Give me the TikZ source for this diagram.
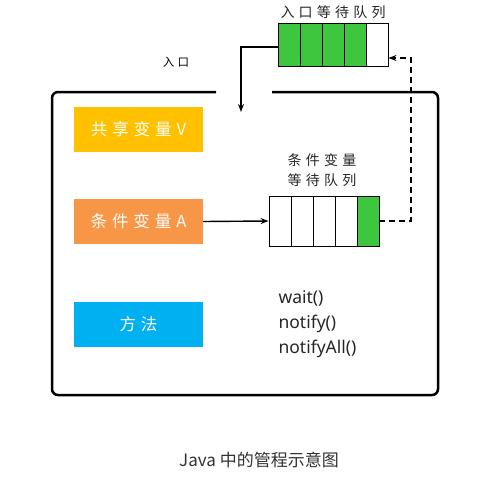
\documentclass[tikz,border=0pt]{standalone}
\usepackage{fontspec}
\newfontfamily\cjk{Noto Sans CJK SC}
\newfontfamily\cjkwide[LetterSpace=30]{Noto Sans CJK SC}
\newfontfamily\latinf{Noto Sans}
\usetikzlibrary{arrows.meta}
\definecolor{qgreen}{HTML}{3EC63E}
\definecolor{vyellow}{HTML}{FFC000}
\definecolor{aorange}{HTML}{F79646}
\definecolor{mblue}{HTML}{00B0F0}
\tikzset{
  colbox/.style={minimum width=129pt, minimum height=45pt, inner sep=0pt, text=white, font=\cjkwide\fontsize{16.5}{16}\selectfont},
  cell/.style={draw=black, line width=0.9pt, minimum width=22pt, inner sep=0pt},
  arr/.style={line width=1.4pt, -{Stealth[length=8pt,width=6pt]}},
  qlabel/.style={font=\cjkwide\fontsize{14}{20}\selectfont, align=center, text=black!85},
}
\begin{document}
\begin{tikzpicture}[x=1pt,y=-1pt]
\useasboundingbox (0,0) rectangle (492,482);
\fill[white] (0,0) rectangle (492,482);
% main box with a gap in the top edge
\draw[line width=2.5pt, rounded corners=6pt] (216,92) -- (52,92) -- (52,395) -- (438,395) -- (438,92) -- (272,92);
% entry queue
\foreach \i in {0,1,2,3} {
  \node[cell, fill=qgreen, minimum height=43pt] (e\i) at (289+22*\i,44.5) {};
}
\node[cell, fill=white, minimum height=43pt] (e4) at (377,44.5) {};
\node[qlabel] (elab) at (333,12) {入口等待队列};
\node[font=\cjkwide\fontsize{11.5}{11}\selectfont] (entry) at (176,62) {入口};
\coordinate (ein) at (241,112);
\draw[arr] (e0.west |- 0,47) -| (ein);
% boxes
\node[colbox, fill=vyellow] (v) at (138.5,129.5) {共享变量V};
\node[colbox, fill=aorange] (a) at (138.5,221.5) {条件变量A};
\node[colbox, fill=mblue] (m) at (138.5,324) {方法};
% condition queue
\foreach \i in {0,1,2,3} {
  \node[cell, fill=white, minimum height=50pt] (c\i) at (280+22*\i,221) {};
}
\node[cell, fill=qgreen, minimum height=50pt] (c4) at (368,221) {};
\node[qlabel] (clab) at (322,170) {条件变量\\等待队列};
\draw[arr] (a.east) -- (c0.west);
\coordinate (turn1) at (411,221);
\coordinate (turn2) at (411,58);
\draw[arr, dash pattern=on 6pt off 4pt] (c4.east) -- (turn1) -- (turn2) -- (e4.east |- turn2);
% methods
\node[anchor=west, font=\latinf\fontsize{17.5}{25}\selectfont, align=left, text=black!85] (meth) at (275,324) {wait()\\notify()\\notifyAll()};
% caption
\node[font=\cjk\fontsize{17}{17}\selectfont, text=black!80] (cap) at (259,460) {Java 中的管程示意图};
\end{tikzpicture}
\end{document}
